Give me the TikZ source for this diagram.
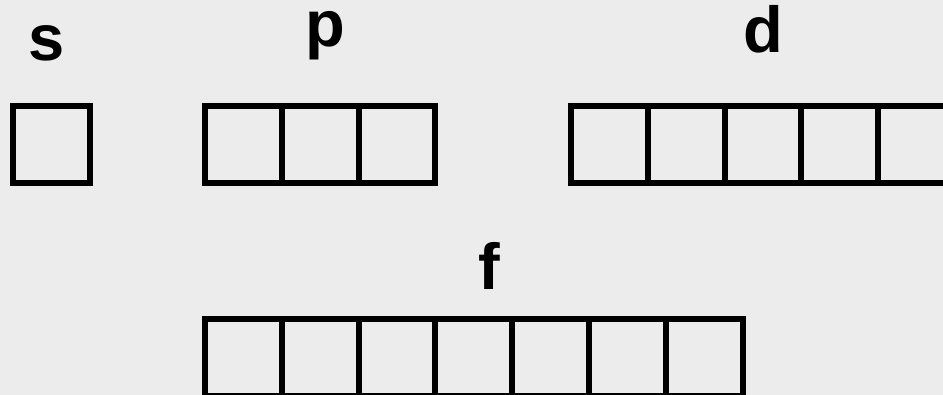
\documentclass[tikz,border=0pt]{standalone}
\usepackage{fontspec}
\setmainfont{Liberation Sans}
\begin{document}
\begin{tikzpicture}[x=0.75pt,y=-0.75pt,
  cell/.style={draw=black,line width=4.5pt,minimum width=57.6pt,minimum height=57.6pt,inner sep=0pt,outer sep=0pt},
  lbl/.style={anchor=base,inner sep=0pt,font=\fontsize{48.75}{50}\selectfont\bfseries}]
\fill[gray!15] (0,0) rectangle (943,395);
\useasboundingbox (0,0) rectangle (943,395);
\node[lbl] (ls) at (47,61) {s};
\node[lbl] (lp) at (325,47) {p};
\node[lbl] (ld) at (763,53) {d};
\node[lbl] (lf) at (489,290) {f};
\node[cell] (s1) at (51.25,144.5) {};
\foreach \i in {1,2,3}{
  \node[cell] (p\i) at ({205+76.8*(\i-0.5)},144.5) {};
}
\foreach \i in {1,...,5}{
  \node[cell] (d\i) at ({571+76.8*(\i-0.5)},144.5) {};
}
\foreach \i in {1,...,7}{
  \node[cell] (f\i) at ({205+76.8*(\i-0.5)},357.4) {};
}
\end{tikzpicture}
\end{document}
